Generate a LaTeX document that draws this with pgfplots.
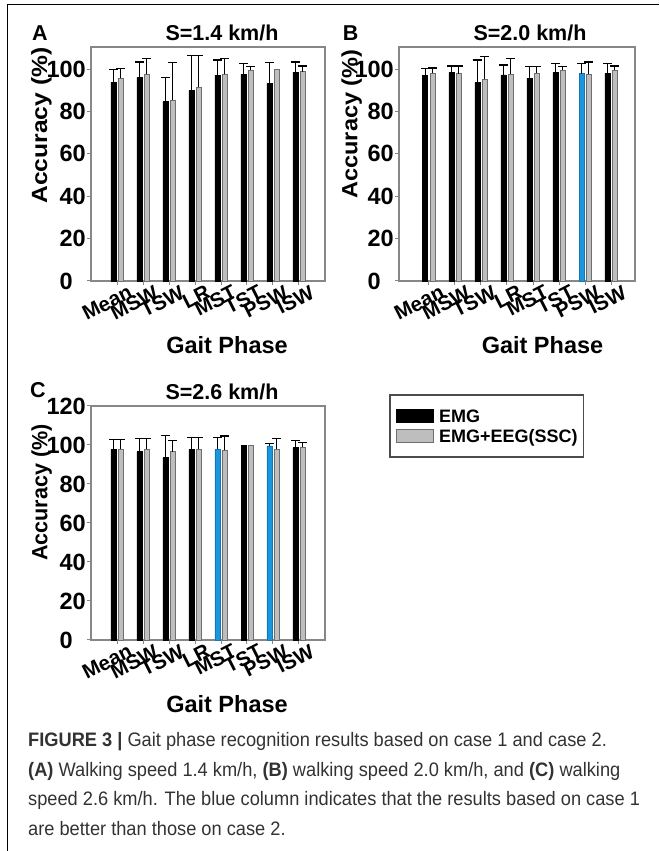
\documentclass[border=0pt]{standalone}
\usepackage{fontspec}
\setmainfont{Liberation Sans}
\newfontfamily\capfont[FakeStretch=0.935]{Liberation Sans}
\usepackage{pgfplots}
\pgfplotsset{compat=1.18}
\definecolor{barblue}{RGB}{27,150,222}
\definecolor{bargray}{RGB}{190,190,190}
\definecolor{edgegray}{RGB}{110,110,110}
\definecolor{axgray}{RGB}{135,135,135}
\definecolor{captext}{RGB}{50,50,50}
\pgfplotsset{
 panel/.style={
   scale only axis, width=234pt, height=234pt,
   xmin=-1, xmax=8, ymin=0,
   axis line style={axgray, line width=1.1pt},
   tick align=outside, tick pos=left,
   major tick length=4pt,
   tick style={axgray, line width=1pt},
   xtick={0,...,7},
   xticklabels={Mean,MSW,TSW,LR,MST,TST,PSW,ISW},
   xticklabel style={rotate=27, anchor=north east, inner sep=0pt, font=\bfseries\fontsize{20.5}{20.5}\selectfont, xshift=9.5pt, yshift=-4pt},
   yticklabel style={font=\bfseries\fontsize{23.5}{23.5}\selectfont, inner sep=0pt, xshift=-1pt},
   clip=false,
 },
 emg/.style={ybar, bar width=5pt, bar shift=0pt, fill=black, draw=black, line width=0.5pt},
 eeg/.style={ybar, bar width=5pt, bar shift=0pt, fill=bargray, draw=edgegray, line width=0.8pt},
 blu/.style={ybar, bar width=5pt, bar shift=0pt, fill=barblue, draw=barblue!80!black, line width=0.5pt},
 eb/.style={error bars/.cd, y dir=plus, y explicit, error bar style={black, line width=1.4pt}, error mark options={rotate=90, black, line width=1.4pt, mark size=4.3pt}},
 legblack/.style={legend image code/.code={\draw[fill=black, draw=black, line width=0.6pt] (0pt,-6.2pt) rectangle (37pt,6.2pt); \path (42pt,0pt);}},
 leggray/.style={legend image code/.code={\draw[fill=bargray, draw=edgegray, line width=0.8pt] (0pt,-6.2pt) rectangle (37pt,6.2pt); \path (42pt,0pt);}},
}
\begin{document}
\begin{tikzpicture}
\useasboundingbox (0pt,0pt) rectangle (659pt,851pt);
\draw[black, line width=1pt] (7pt,0pt) -- (7pt,846pt) -- (659pt,846pt);

% Panel A
\begin{axis}[panel, at={(91pt,570pt)}, anchor=south west, ymax=110.4,
  ytick={0,20,...,100}, yticklabels={0\phantom{0},20,40,60,80,100}]
\addplot[emg, eb] coordinates {(-0.142,93.7) +- (0,6.2) (0.858,95.9) +- (0,7.4) (1.858,84.6) +- (0,11.3) (2.858,89.8) +- (0,16.5) (3.858,97.0) +- (0,7.3) (4.858,97.5) +- (0,5.2) (5.858,93.2) +- (0,10.0) (6.858,98.4) +- (0,4.9)};
\addplot[eeg, eb] coordinates {(0.142,95.6) +- (0,4.7) (1.142,97.5) +- (0,7.5) (2.142,85.4) +- (0,17.6) (3.142,91.5) +- (0,15.0) (4.142,97.5) +- (0,7.5) (5.142,99.5) +- (0,1.6) (7.142,98.7) +- (0,2.8)};
\addplot[eeg] coordinates {(6.142,100.0)};
\end{axis}

% Panel B
\begin{axis}[panel, at={(399pt,570pt)}, anchor=south west, width=236pt, xmin=-1.15, xmax=7.92, ymax=110.4,
  ytick={0,20,...,100}, yticklabels={0\phantom{0},20,40,60,80,100}]
\addplot[emg, eb] coordinates {(-0.142,96.9) +- (0,3.3) (0.858,98.3) +- (0,3.1) (1.858,93.7) +- (0,10.5) (2.858,97.3) +- (0,4.6) (3.858,95.6) +- (0,5.5) (4.858,98.3) +- (0,4.4) (6.858,98.1) +- (0,4.6)};
\addplot[blu, eb] coordinates {(5.858,97.8) +- (0,4.9)};
\addplot[eeg, eb] coordinates {(0.142,98.0) +- (0,2.4) (1.142,97.8) +- (0,3.6) (2.142,95.1) +- (0,10.9) (3.142,97.6) +- (0,7.4) (4.142,98.1) +- (0,3.0) (5.142,99.5) +- (0,1.8) (6.142,97.5) +- (0,5.8) (7.142,99.5) +- (0,1.9)};
\end{axis}

% Panel C
\begin{axis}[panel, at={(91pt,211pt)}, anchor=south west, ymax=120,
  ytick={0,20,...,120}, yticklabels={0\phantom{0},20,40,60,80,100,120},
  legend style={at={(1.278,1.047)}, anchor=north west, draw=black!70, line width=1.3pt,
    inner xsep=6pt, inner ysep=11pt, row sep=0pt, outer sep=0pt,
    nodes={inner sep=0pt, text depth=0pt, minimum height=20pt},
    font=\bfseries\fontsize{18}{18}\selectfont, cells={anchor=west}},
  legend cell align=left]
\addlegendimage{legblack}
\addlegendentry{EMG}
\addlegendimage{leggray}
\addlegendentry{EMG+EEG(SSC)}
\addplot[emg, forget plot, eb] coordinates {(-0.142,97.8) +- (0,5.1) (0.858,96.6) +- (0,6.8) (1.858,93.5) +- (0,11.5) (2.858,97.8) +- (0,5.9) (6.858,98.6) +- (0,3.6)};
\addplot[emg, forget plot] coordinates {(4.858,100)};
\addplot[blu, forget plot, eb] coordinates {(3.858,97.8) +- (0,5.9) (5.858,99.5) +- (0,1.2)};
\addplot[eeg, forget plot, eb] coordinates {(0.142,97.9) +- (0,5.0) (1.142,97.9) +- (0,5.5) (2.142,96.6) +- (0,5.6) (3.142,97.8) +- (0,5.9) (4.142,97.3) +- (0,7.3) (6.142,97.9) +- (0,5.3) (7.142,99.0) +- (0,2.4)};
\addplot[eeg, forget plot] coordinates {(5.142,100)};
\end{axis}

% Letters, titles, labels
\begin{scope}[every node/.style={font=\bfseries\fontsize{21.5}{21.5}\selectfont, inner sep=0pt}]
\node at (40pt,818pt) {A};
\node at (350.7pt,818pt) {B};
\node at (38pt,461pt) {C};
\node at (222pt,818pt) {S=1.4 km/h};
\node at (530pt,818pt) {S=2.0 km/h};
\node at (222pt,459pt) {S=2.6 km/h};
\end{scope}
\begin{scope}[every node/.style={font=\bfseries\fontsize{23.5}{23.5}\selectfont, inner sep=0pt}]
\node at (227pt,506pt) {Gait Phase};
\node at (542.5pt,506pt) {Gait Phase};
\node at (227pt,147pt) {Gait Phase};
\end{scope}
\begin{scope}[every node/.style={font=\bfseries\fontsize{22}{22}\selectfont, inner sep=0pt}]
\node[rotate=90] at (41.5pt,725.4pt) {\scalebox{1.12}[1]{Accuracy (\%)}};
\node[rotate=90] at (351.7pt,727pt) {\scalebox{1.07}[1]{Accuracy (\%)}};
\node[rotate=90] at (41.7pt,358.5pt) {\scalebox{0.98}[1]{Accuracy (\%)}};
\end{scope}

% Caption
\begin{scope}[every node/.style={font=\capfont\fontsize{19.5}{19.5}\selectfont, text=captext, inner sep=0pt, anchor=base west}]
\node at (28pt,104pt) {\textbf{FIGURE 3 |} Gait phase recognition results based on case 1 and case 2.};
\node at (28pt,74.5pt) {\textbf{(A)} Walking speed 1.4 km/h, \textbf{(B)} walking speed 2.0 km/h, and \textbf{(C)} walking};
\node at (28pt,45pt) {speed 2.6 km/h. The blue column indicates that the results based on case 1};
\node at (28pt,15.5pt) {are better than those on case 2.};
\end{scope}
\end{tikzpicture}
\end{document}
